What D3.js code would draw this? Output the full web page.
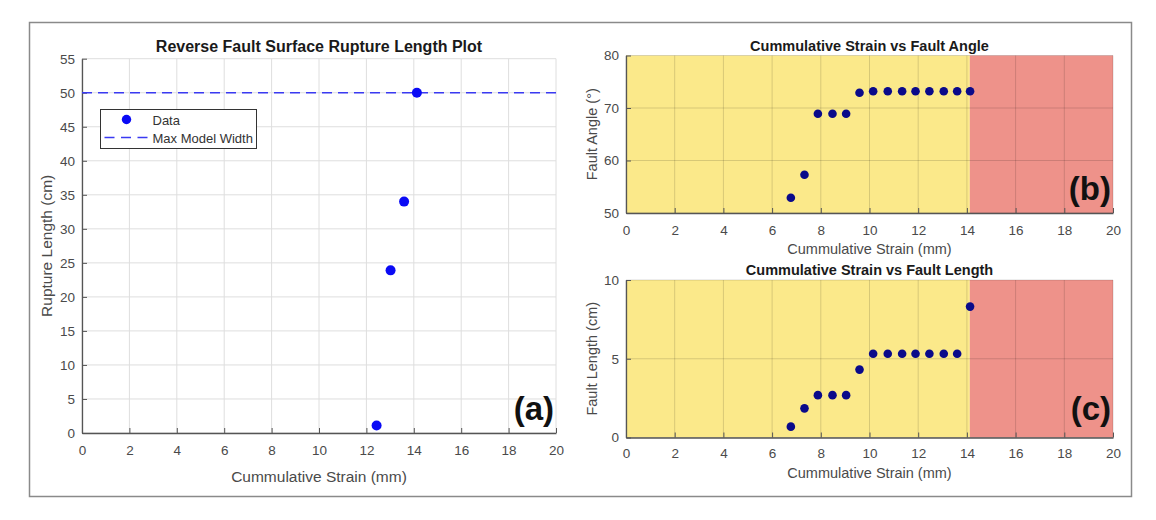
<!DOCTYPE html>
<html>
<head>
<meta charset="utf-8">
<script src="https://cdn.jsdelivr.net/npm/d3@7"></script>
<style>
    body { margin: 0; background: #fff; }
    svg text { font-family: "Liberation Sans", Arial, sans-serif; }
    .title { font-weight: bold; fill: #1a1a1a; }
    .label { fill: #4a4a4a; }
    .tag { font-weight: bold; font-size: 33px; fill: #111; }
</style>
</head>
<body>
<svg width="1156" height="520"></svg>
<script>
//data: panel (a)
var ruptureStrain = [12.43, 13.02, 13.59, 14.13],
    ruptureLength = [1.1, 23.9, 34.0, 50.0],
    maxModelWidth = 50;

//data: panels (b) and (c)
var strain = [6.77, 7.33, 7.88, 8.48, 9.04, 9.59, 10.15, 10.75, 11.34, 11.89, 12.46, 13.05, 13.6, 14.13];
var faultAngle = [52.9, 57.3, 68.9, 68.9, 68.9, 72.9, 73.2, 73.2, 73.2, 73.2, 73.2, 73.2, 73.2, 73.2];
var faultLength = [0.69, 1.85, 2.69, 2.69, 2.69, 4.31, 5.32, 5.32, 5.32, 5.32, 5.32, 5.32, 5.32, 8.31];

//zones (strain, mm)
var zoneEdges = [0, 14.12, 20];
var zoneColors = ["#fbe98a", "#ee928a"];

//ticks
var strainTicks = d3.range(0, 21, 2),
    ruptureTicks = d3.range(0, 56, 5),
    angleTicks = [50, 60, 70, 80],
    lengthTicks = [0, 5, 10];

var svg = d3.select("svg");

//outer frame
svg.append("rect")
    .attr("x", 29.5).attr("y", 22.5)
    .attr("width", 1102).attr("height", 474)
    .attr("fill", "none")
    .attr("stroke", "#8a8a8a")
    .attr("stroke-width", 1.5);

function makePanel(opt) {
    var x = d3.scaleLinear().domain([0, 20]).range([opt.left, opt.right]);
    var y = d3.scaleLinear().domain(opt.yDomain).range([opt.bottom, opt.top]);
    var g = svg.append("g");

    //zones
    if (opt.zones) {
        for (var i = 0; i < zoneColors.length; i++) {
            g.append("rect")
                .attr("x", x(zoneEdges[i]))
                .attr("y", opt.top)
                .attr("width", x(zoneEdges[i + 1]) - x(zoneEdges[i]))
                .attr("height", opt.bottom - opt.top)
                .attr("fill", zoneColors[i]);
        }
    }

    //grid
    g.append("g").selectAll("line")
        .data(opt.yTicks)
        .enter().append("line")
        .attr("x1", opt.left).attr("x2", opt.right)
        .attr("y1", d => y(d)).attr("y2", d => y(d))
        .attr("stroke", opt.gridColor)
        .attr("stroke-opacity", opt.gridOpacity);
    g.append("g").selectAll("line")
        .data(strainTicks)
        .enter().append("line")
        .attr("x1", d => x(d)).attr("x2", d => x(d))
        .attr("y1", opt.top).attr("y2", opt.bottom)
        .attr("stroke", opt.gridColor)
        .attr("stroke-opacity", opt.gridOpacity);

    //axes (ticks point inward)
    var gx = g.append("g")
        .attr("transform", "translate(0," + opt.bottom + ")")
        .call(d3.axisBottom(x).tickValues(strainTicks).tickFormat(d3.format("d"))
            .tickSizeInner(-5).tickSizeOuter(0).tickPadding(opt.xPad));
    var gy = g.append("g")
        .attr("transform", "translate(" + opt.left + ",0)")
        .call(d3.axisLeft(y).tickValues(opt.yTicks).tickFormat(d3.format("d"))
            .tickSizeInner(-5).tickSizeOuter(0).tickPadding(7));
    [gx, gy].forEach(function (a) {
        a.select(".domain").attr("stroke", "#555").attr("stroke-width", 1.3);
        a.selectAll(".tick line").attr("stroke", "#555");
        a.selectAll(".tick text")
            .attr("fill", "#4a4a4a")
            .style("font-size", "13.5px");
    });

    //title
    g.append("text")
        .attr("class", "title")
        .attr("x", (opt.left + opt.right) / 2)
        .attr("y", opt.titleY)
        .attr("text-anchor", "middle")
        .style("font-size", opt.titleSize + "px")
        .text(opt.title);

    //x label
    g.append("text")
        .attr("class", "label")
        .attr("x", (opt.left + opt.right) / 2)
        .attr("y", opt.xLabelY)
        .attr("text-anchor", "middle")
        .style("font-size", opt.labelSize + "px")
        .text("Cummulative Strain (mm)");

    //y label
    g.append("text")
        .attr("class", "label")
        .attr("text-anchor", "middle")
        .attr("transform", "translate(" + opt.yLabelX + "," + (opt.top + opt.bottom) / 2 + ") rotate(-90)")
        .style("font-size", opt.labelSize + "px")
        .text(opt.yLabel);

    //panel tag
    g.append("text")
        .attr("class", "tag")
        .attr("x", opt.right - 2)
        .attr("y", opt.bottom - opt.tagLift)
        .attr("text-anchor", "end")
        .text(opt.tag);

    return { g: g, x: x, y: y };
}

//panel (a)
var pa = makePanel({
    left: 82, right: 556, top: 58.7, bottom: 433,
    yDomain: [0, 55], yTicks: ruptureTicks,
    gridColor: "#dedede", gridOpacity: 1,
    titleSize: 16, labelSize: 15.5, xPad: 12,
    titleY: 52, xLabelY: 482, yLabelX: 52,
    title: "Reverse Fault Surface Rupture Length Plot",
    yLabel: "Rupture Length (cm)",
    tag: "(a)", tagLift: 13
});

pa.g.append("line")
    .attr("x1", pa.x(0)).attr("x2", pa.x(20))
    .attr("y1", pa.y(maxModelWidth)).attr("y2", pa.y(maxModelWidth))
    .attr("stroke", "#3a3af2")
    .attr("stroke-width", 1.5)
    .attr("stroke-dasharray", "10,6");

pa.g.append("g").selectAll("circle")
    .data(ruptureStrain)
    .enter().append("circle")
    .attr("cx", d => pa.x(d))
    .attr("cy", (d, i) => pa.y(ruptureLength[i]))
    .attr("r", 5)
    .attr("fill", "#0a0af5");

//legend
var legend = pa.g.append("g").attr("transform", "translate(100.5,109.5)");
legend.append("rect")
    .attr("width", 156).attr("height", 39)
    .attr("fill", "#fff")
    .attr("stroke", "#333")
    .attr("stroke-width", 1);
legend.append("circle")
    .attr("cx", 26).attr("cy", 10).attr("r", 4.7)
    .attr("fill", "#0a0af5");
legend.append("line")
    .attr("x1", 4).attr("x2", 47)
    .attr("y1", 28).attr("y2", 28)
    .attr("stroke", "#3a3af2")
    .attr("stroke-width", 1.5)
    .attr("stroke-dasharray", "10,6.5");
legend.append("text")
    .attr("x", 52).attr("y", 15.5)
    .style("font-size", "13px").attr("fill", "#333")
    .text("Data");
legend.append("text")
    .attr("x", 52).attr("y", 33)
    .style("font-size", "13px").attr("fill", "#333")
    .text("Max Model Width");

//panel (b)
var pb = makePanel({
    left: 626, right: 1113, top: 55.5, bottom: 213,
    yDomain: [50, 80], yTicks: angleTicks, zones: true,
    gridColor: "#000", gridOpacity: 0.14,
    titleSize: 14.5, labelSize: 14.5, xPad: 12,
    titleY: 50.5, xLabelY: 254, yLabelX: 597,
    title: "Cummulative Strain vs Fault Angle",
    yLabel: "Fault Angle (°)",
    tag: "(b)", tagLift: 13.5
});

pb.g.append("g").selectAll("circle")
    .data(strain)
    .enter().append("circle")
    .attr("cx", d => pb.x(d))
    .attr("cy", (d, i) => pb.y(faultAngle[i]))
    .attr("r", 4.3)
    .attr("fill", "#0a0a8a");

//panel (c)
var pc = makePanel({
    left: 626, right: 1113, top: 280, bottom: 437.5,
    yDomain: [0, 10], yTicks: lengthTicks, zones: true,
    gridColor: "#000", gridOpacity: 0.14,
    titleSize: 14.5, labelSize: 14.5, xPad: 11,
    titleY: 275, xLabelY: 478, yLabelX: 597,
    title: "Cummulative Strain vs Fault Length",
    yLabel: "Fault Length (cm)",
    tag: "(c)", tagLift: 17.5
});

pc.g.append("g").selectAll("circle")
    .data(strain)
    .enter().append("circle")
    .attr("cx", d => pc.x(d))
    .attr("cy", (d, i) => pc.y(faultLength[i]))
    .attr("r", 4.3)
    .attr("fill", "#0a0a8a");
</script>
</body>
</html>
